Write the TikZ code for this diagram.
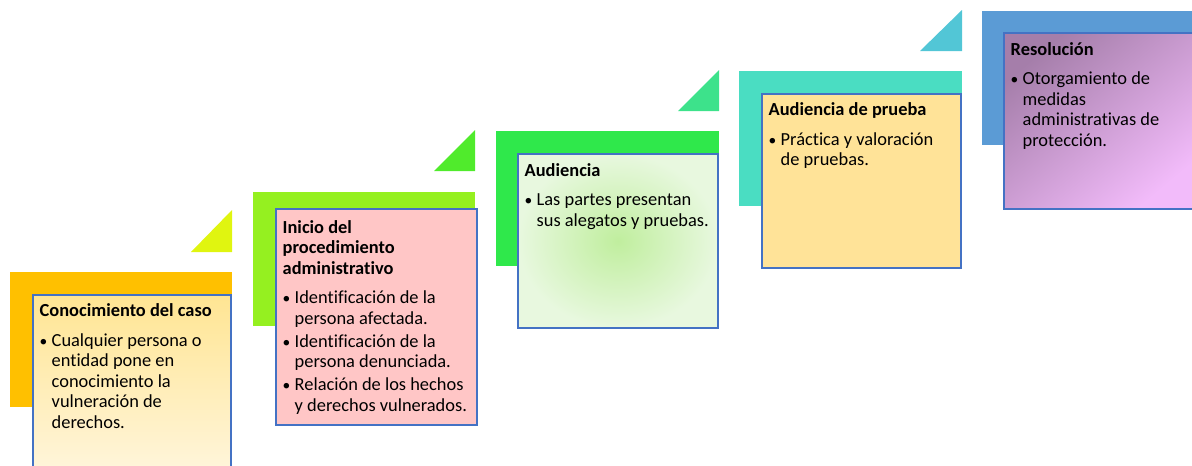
\documentclass[tikz,border=0pt]{standalone}
\usepackage{fontspec}
\setmainfont{Carlito}[Ligatures=NoCommon]
\definecolor{bgA}{HTML}{FFC000}
\definecolor{triA}{HTML}{E0F510}
\definecolor{bgB}{HTML}{95F020}
\definecolor{triB}{HTML}{50EB2C}
\definecolor{bgC}{HTML}{2FE84B}
\definecolor{triC}{HTML}{3DE28B}
\definecolor{bgD}{HTML}{4ADDC2}
\definecolor{triD}{HTML}{52C6D6}
\definecolor{bgE}{HTML}{5B9BD5}
\definecolor{boxline}{HTML}{4472C4}
\definecolor{fillAtop}{HTML}{FFE593}
\definecolor{fillAbot}{HTML}{FFF5DA}
\definecolor{fillB}{HTML}{FFC6C6}
\definecolor{fillCin}{HTML}{C0EE9E}
\definecolor{fillCout}{HTML}{E8F8DF}
\definecolor{fillD}{HTML}{FFE398}
\definecolor{fillEtl}{HTML}{A57EAA}
\definecolor{fillEbr}{HTML}{F2BBFA}
\newcommand{\stepitem}[1]{\par\vspace{2.5pt}\hangindent=12pt\hangafter=1\noindent\makebox[12pt][l]{\fontsize{15.5}{15.5}\selectfont\textbullet}#1\par}
\newcommand{\steptext}[2]{\parbox[t]{230pt}{\fontsize{18.4}{20.5}\selectfont\raggedright\noindent\textbf{#1}\par\vspace{6.5pt}#2}}
\tikzset{
  stepborder/.style={draw=boxline, line width=2.6pt},
  steplabel/.style={anchor=base west, inner sep=0pt, text=black}
}
\begin{document}
\begin{tikzpicture}[x=1pt,y=-1pt]
\useasboundingbox (0,0) rectangle (1192,466);
\clip (0,0) rectangle (1192,466);
% step 1
\fill[bgA] (10,272) rectangle (232,407);
\fill[triA] (191,252) -- (232,252) -- (232,210) -- cycle;
\shade[top color=fillAtop, bottom color=fillAbot] (33,295) rectangle (231,470);
\draw[stepborder] (33,295) rectangle (231,470);
\node[steplabel] (t1) at (39.5,316.5) {\steptext{Conocimiento del caso}{%
\stepitem{Cualquier persona o\newline entidad pone en\newline conocimiento la\newline vulneración de\newline derechos.}}};
% step 2
\fill[bgB] (253,192) rectangle (475,326);
\fill[triB] (434,171) -- (475,171) -- (475,130) -- cycle;
\fill[fillB] (276,209) rectangle (477,425);
\draw[stepborder] (276,209) rectangle (477,425);
\node[steplabel] (t2) at (282.5,233) {\steptext{Inicio del\\ procedimiento\\ administrativo}{%
\stepitem{Identificación de la\newline persona afectada.}%
\stepitem{Identificación de la\newline persona denunciada.}%
\stepitem{Relación de los hechos\newline y derechos vulnerados.}}};
% step 3
\fill[bgC] (496,131) rectangle (719,266);
\fill[triC] (678,111) -- (719,111) -- (719,70) -- cycle;
\shade[inner color=fillCin, outer color=fillCout] (518,154) rectangle (718,328);
\draw[stepborder] (518,154) rectangle (718,328);
\node[steplabel] (t3) at (524.5,176) {\steptext{Audiencia}{%
\stepitem{Las partes presentan\newline sus alegatos y pruebas.}}};
% step 4
\fill[bgD] (739,71) rectangle (962,206);
\fill[triD] (920,51) -- (962,51) -- (962,10) -- cycle;
\fill[fillD] (762,94) rectangle (961,268);
\draw[stepborder] (762,94) rectangle (961,268);
\node[steplabel] (t4) at (768.5,115.5) {\steptext{Audiencia de prueba}{%
\stepitem{Práctica y valoración\newline de pruebas.}}};
% step 5
\fill[bgE] (982,11) rectangle (1196,145);
\shade[top color=fillEtl, bottom color=fillEbr, shading angle=40] (1004,33) rectangle (1196,209);
\draw[stepborder] (1004,33) rectangle (1196,209);
\node[steplabel] (t5) at (1010.5,55) {\steptext{Resolución}{%
\stepitem{Otorgamiento de\newline medidas\newline administrativas de\newline protección.}}};
\end{tikzpicture}
\end{document}
